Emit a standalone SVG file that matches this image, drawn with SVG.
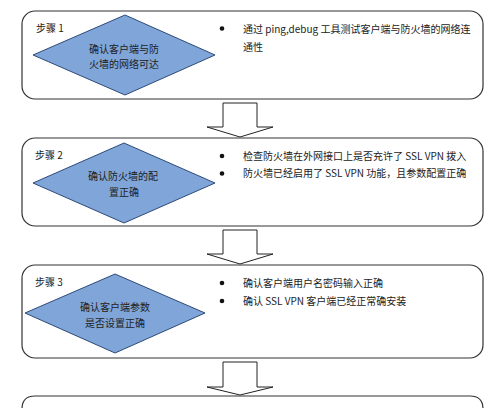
<svg xmlns="http://www.w3.org/2000/svg" width="500" height="408" viewBox="0 0 500 408">
<style>
.box{fill:#fff;stroke:#333;stroke-width:1.2}
.dia{fill:#7FA5D9;stroke:#2E4A78;stroke-width:1}
.arr{fill:#fff;stroke:#222;stroke-width:1}
text{font-family:"Microsoft YaHei","Noto Sans CJK SC","Liberation Sans",sans-serif;font-size:10px;fill:#222}
.c{text-anchor:middle}
.dot{fill:#111}
</style>
<rect width="500" height="408" fill="#fff"/>
<g id="connectors">
<path class="arr" d="M223,103 H257 V127 H273 L240,137 L207,127 H223 Z"/>
<path class="arr" d="M223,230 H257 V254 H273 L240,264 L207,254 H223 Z"/>
<path class="arr" d="M223,362 H257 V387 H273 L240,395 L207,387 H223 Z"/>
</g>
<g id="step1">
<rect class="box" x="22" y="11" width="461" height="88" rx="13"/>
<text x="36" y="32">步骤 1</text>
<polygon class="dia" points="33,55 125,15 215,55 125,95"/>
<text class="c" x="124" y="52.5">确认客户端与防</text>
<text class="c" x="124" y="67.5">火墙的网络可达</text>
<circle class="dot" cx="222" cy="28.5" r="2.3"/>
<text x="243" y="32.5">通过 ping,debug 工具测试客户端与防火墙的网络连</text>
<text x="243" y="50.5">通性</text>
</g>
<g id="step2">
<rect class="box" x="22" y="138" width="461" height="88" rx="13"/>
<text x="35" y="158.5">步骤 2</text>
<polygon class="dia" points="33,183 124,143 215,183 124,223"/>
<text class="c" x="123" y="179.5">确认防火墙的配</text>
<text class="c" x="124" y="195.5">置正确</text>
<circle class="dot" cx="222" cy="156" r="2.3"/>
<circle class="dot" cx="222" cy="173.5" r="2.3"/>
<text x="243" y="159.5">检查防火墙在外网接口上是否充许了 SSL VPN 拨入</text>
<text x="243" y="177">防火墙已经启用了 SSL VPN 功能，且参数配置正确</text>
</g>
<g id="step3">
<rect class="box" x="22" y="265" width="461" height="93" rx="13"/>
<text x="35" y="285.5">步骤 3</text>
<polygon class="dia" points="25,313 115,274 205,313 115,353"/>
<text class="c" x="115" y="310.5">确认客户端参数</text>
<text class="c" x="115" y="326.5">是否设置正确</text>
<circle class="dot" cx="222" cy="283" r="2.3"/>
<circle class="dot" cx="222" cy="301" r="2.3"/>
<text x="243" y="286.5">确认客户端用户名密码输入正确</text>
<text x="243" y="304.5">确认 SSL VPN 客户端已经正常确安装</text>
</g>
<g id="step4">
<path class="box" d="M22,420 V409 Q22,396 35,396 H470 Q483,396 483,409 V420"/>
</g>
</svg>
